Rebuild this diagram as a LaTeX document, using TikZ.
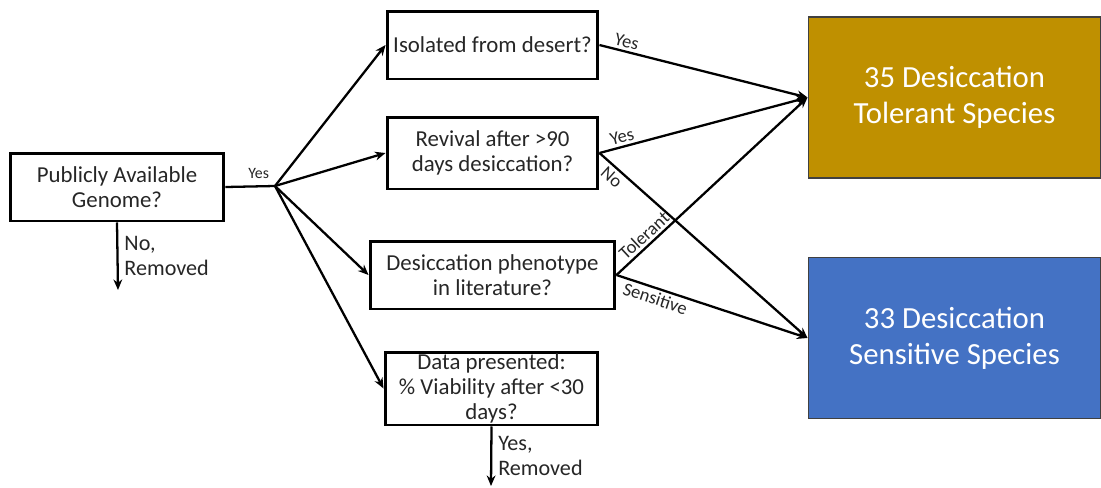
\documentclass[tikz,border=0pt]{standalone}
\usepackage{fontspec}
\setmainfont{Carlito}
\usetikzlibrary{arrows.meta}
\definecolor{tolgold}{HTML}{BF9000}
\definecolor{senblue}{HTML}{4472C4}
\tikzset{
    qbox/.style={rectangle, draw, line width=1.7pt, align=center, inner sep=0pt,
        text=black!85, font=\fontsize{13}{14.3}\selectfont},
    resbox/.style={rectangle, draw=black!75, line width=0.6pt, align=center,
        text=white, font=\fontsize{17.5}{20.6}\selectfont,
        minimum width=5.86cm, minimum height=3.22cm},
    flow/.style={-{Stealth[length=6pt, width=5pt]}, line width=1.3pt},
    lbl/.style={font=\fontsize{10.5}{11}\selectfont, inner sep=1.5pt, text=black!85},
    droplbl/.style={font=\fontsize{12.6}{14.2}\selectfont, align=left, text=black!85}
}
\begin{document}
\begin{tikzpicture}[x=0.02cm, y=-0.02cm]

    \useasboundingbox (0,0) rectangle (1101,487);

    % QUESTION NODES
    \node[qbox, minimum width=4.28cm, minimum height=1.36cm]
        (genome) at (117,187) {Publicly Available\\Genome?};
    \node[qbox, minimum width=4.22cm, minimum height=1.36cm]
        (desert) at (492.5,45) {Isolated from desert?};
    \node[qbox, minimum width=4.22cm, minimum height=1.44cm]
        (revival) at (492.5,153) {Revival after >90\\days desiccation?};
    \node[qbox, minimum width=4.90cm, minimum height=1.36cm]
        (pheno) at (492.5,275) {Desiccation phenotype\\in literature?};
    \node[qbox, minimum width=4.26cm, minimum height=1.46cm]
        (data) at (491.5,388.5) {Data presented:\\\% Viability after <30\\days?};

    % RESULT NODES
    \node[resbox, fill=tolgold] (tolerant) at (954.5,97.5)
        {35 Desiccation\\Tolerant Species};
    \node[resbox, fill=senblue] (sensitive) at (954.5,338)
        {33 Desiccation\\Sensitive Species};

    % HELPER POINTS
    \coordinate (fork) at (275,186);
    \coordinate (gendrop) at (118,290);
    \coordinate (datadrop) at (491,486);

    % GENOME SPLIT
    \draw[line width=1.3pt] (genome.east) --
        node[lbl, pos=0.67, above=2pt, font=\fontsize{9}{10}\selectfont] {Yes} (fork);
    \draw[flow] (genome.south) -- node[droplbl, right] {No,\\Removed} (gendrop);

    \draw[flow] (fork) -- (desert.west);
    \draw[flow] (fork) -- (revival.west);
    \draw[flow] (fork) -- (pheno.west);
    \draw[flow] (fork) -- (data.west);

    \draw[flow] (data.south) -- node[droplbl, right] {Yes,\\Removed} (datadrop);

    % OUTCOME EDGES
    \draw[flow] (desert.east) --
        node[lbl, pos=0.12, sloped, above] {Yes} (tolerant.west);
    \draw[flow] (revival.east) --
        node[lbl, pos=0.12, sloped, above] {Yes} (tolerant.west);
    \draw[flow] (revival.east) --
        node[lbl, pos=0.09, sloped, below] {No} (sensitive.west);
    \draw[flow] (pheno.east) --
        node[lbl, pos=0.18, sloped, above] {Tolerant} (tolerant.west);
    \draw[flow] (pheno.east) --
        node[lbl, pos=0.22, sloped, below] {Sensitive} (sensitive.west);

\end{tikzpicture}
\end{document}
